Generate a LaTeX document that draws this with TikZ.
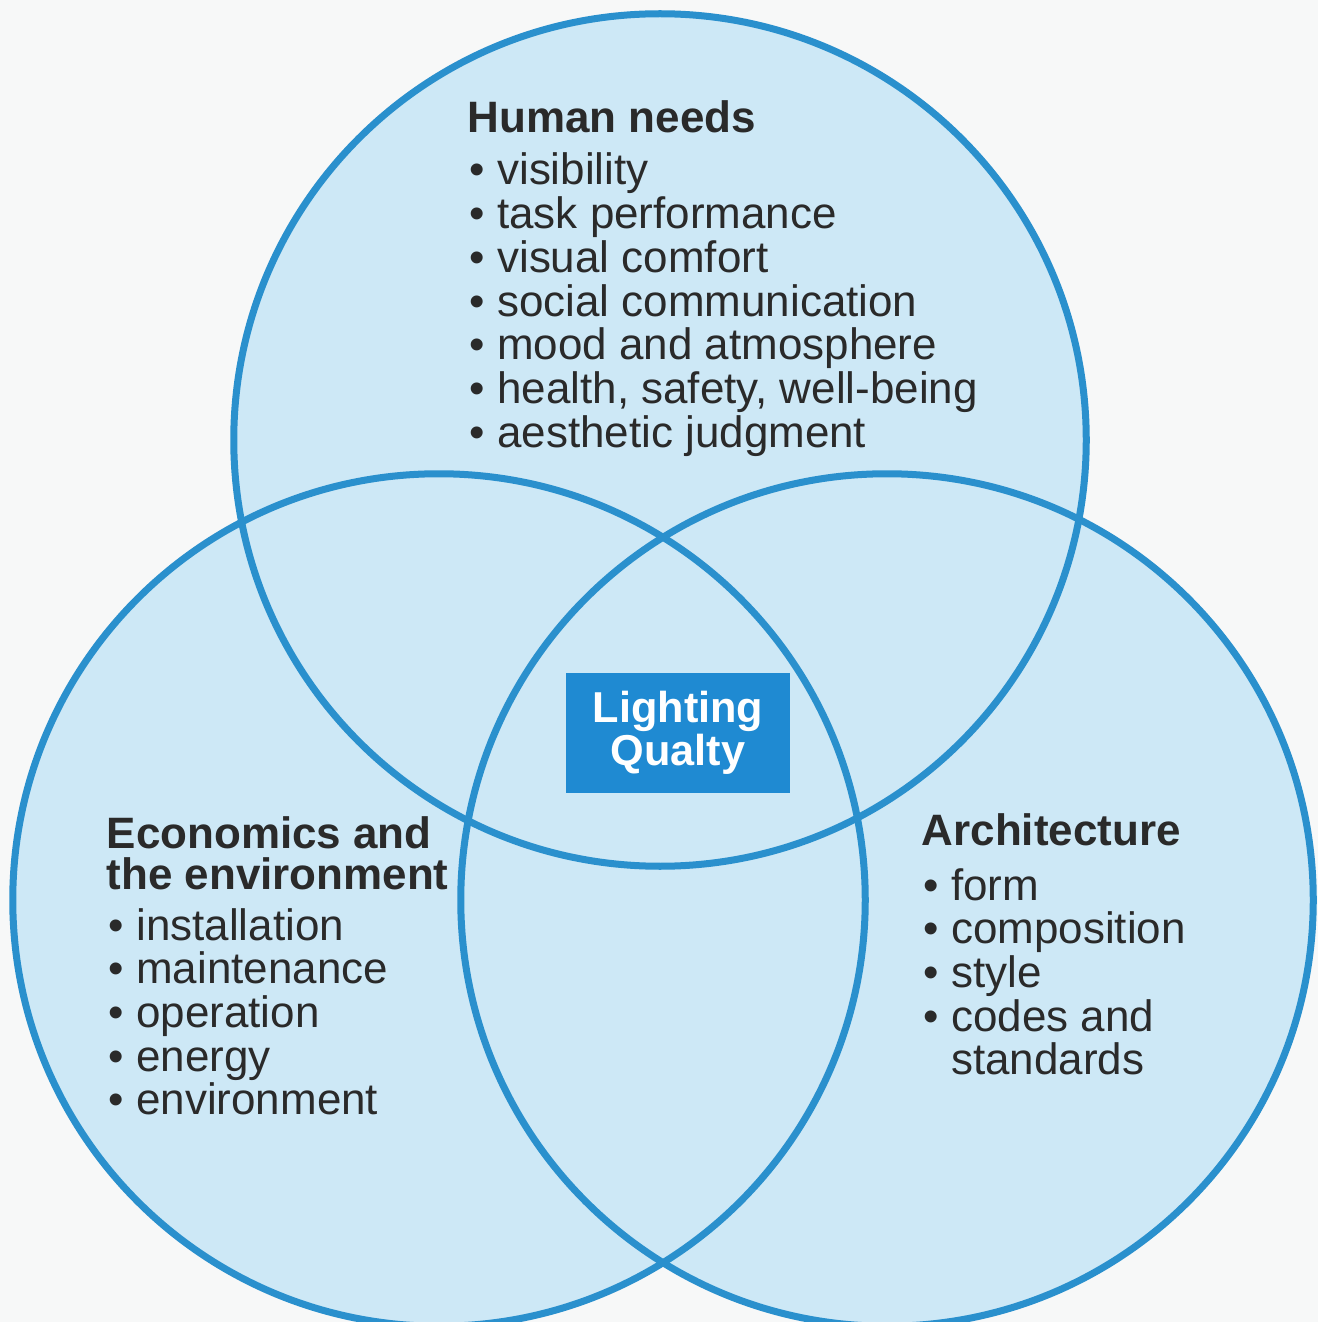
\documentclass[tikz,border=0pt]{standalone}
\usepackage{fontspec}
\setmainfont{Liberation Sans}
\usetikzlibrary{positioning}
\definecolor{vennfill}{HTML}{CDE8F6}
\definecolor{vennline}{HTML}{2A90CD}
\definecolor{boxblue}{HTML}{1F8AD2}
\definecolor{inkgray}{HTML}{2A2A2A}
\definecolor{paper}{HTML}{F7F8F8}

\begin{document}
\begin{tikzpicture}[x=0.01cm,y=-0.01cm,
    venn/.style={circle, minimum size=8.52cm, inner sep=0pt, fill=vennfill},
    rim/.style={draw=vennline, line width=0.07cm},
    head/.style={anchor=base west, inner sep=0pt, text=inkgray,
      font=\fontsize{12.5}{12.6}\selectfont\bfseries},
    item/.style={anchor=base west, inner sep=0pt, text=inkgray,
      font=\fontsize{12.5}{12.6}\selectfont},
  ]
  \fill[paper] (0,0) rectangle (1318,1322);
  \useasboundingbox (0,0) rectangle (1318,1322);

  % the three fields
  \node[venn] (hum) at (660,440) {};
  \node[venn] (eco) at (439,900) {};
  \node[venn] (arc) at (887,900) {};
  \foreach \c in {hum,eco,arc}
    \draw[rim] (\c.center) circle[radius=4.26cm];

  % centre label
  \node[fill=boxblue, text=white, minimum width=2.23cm, minimum height=1.20cm,
    align=center, font=\fontsize{12.3}{12.2}\selectfont\bfseries] (lq) at (678,733)
    {Lighting\\Qualty};

  % Human needs
  \node[head] (hn) at (467,133) {Human needs};
  \foreach \t [count=\i] in {visibility, task performance, visual comfort,
      social communication, mood and atmosphere, {health, safety, well-being},
      aesthetic judgment}
    \node[item] (hn\i) at (469,{185+43.7*(\i-1)}) {\textbullet\ \t};

  % Economics and the environment
  \node[head] (ec1) at (106,848) {Economics and};
  \node[head] (ec2) at (106,889) {the environment};
  \foreach \t [count=\i] in {installation, maintenance, operation, energy, environment}
    \node[item] (ei\i) at (108,{940+43.7*(\i-1)}) {\textbullet\ \t};

  % Architecture
  \node[head] (ar) at (921,845) {Architecture};
  \foreach \t [count=\i] in {form, composition, style, codes and,
      {\phantom{\textbullet\ }standards}}
    \node[item] (ai\i) at (923,{900+43.7*(\i-1)}) {\ifnum\i<5 \textbullet\ \fi\t};
\end{tikzpicture}
\end{document}
